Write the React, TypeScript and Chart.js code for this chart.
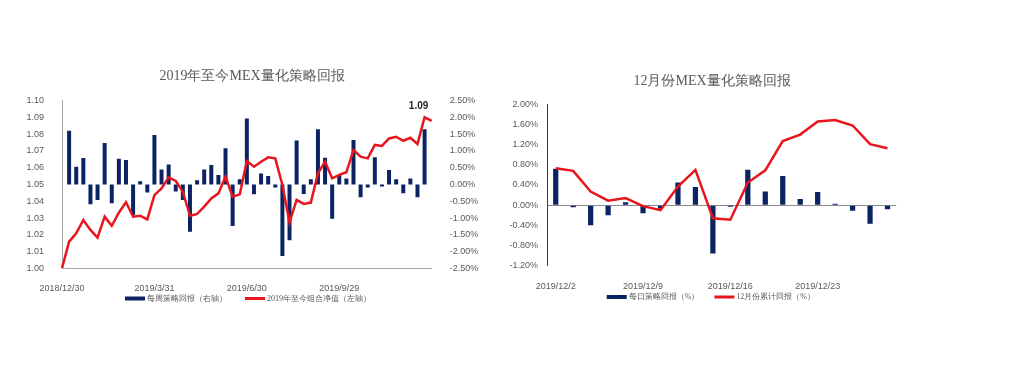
import React, { useEffect, useRef } from "react";
import { Chart, registerables } from "chart.js";

Chart.register(...registerables);

// ---------- Left chart data (weekly) ----------
const weeklyCategories = [
  "2018/12/30", "2019/1/6", "2019/1/13", "2019/1/20", "2019/1/27", "2019/2/3", "2019/2/10",
  "2019/2/17", "2019/2/24", "2019/3/3", "2019/3/10", "2019/3/17", "2019/3/24", "2019/3/31",
  "2019/4/7", "2019/4/14", "2019/4/21", "2019/4/28", "2019/5/5", "2019/5/12", "2019/5/19",
  "2019/5/26", "2019/6/2", "2019/6/9", "2019/6/16", "2019/6/23", "2019/6/30", "2019/7/7",
  "2019/7/14", "2019/7/21", "2019/7/28", "2019/8/4", "2019/8/11", "2019/8/18", "2019/8/25",
  "2019/9/1", "2019/9/8", "2019/9/15", "2019/9/22", "2019/9/29", "2019/10/6", "2019/10/13",
  "2019/10/20", "2019/10/27", "2019/11/3", "2019/11/10", "2019/11/17", "2019/11/24",
  "2019/12/1", "2019/12/8", "2019/12/15", "2019/12/22", "2019/12/29",
];
const weeklyTickLabels = ["2018/12/30", "2019/3/31", "2019/6/30", "2019/9/29"];
const weeklyReturn: (number | null)[] = [
  null, 1.6, 0.53, 0.79, -0.59, -0.46, 1.24, -0.56, 0.77, 0.73, -0.91,
  0.1, -0.24, 1.48, 0.45, 0.6, -0.21, -0.46, -1.41, 0.13, 0.45,
  0.58, 0.28, 1.08, -1.24, 0.16, 1.97, -0.29, 0.33, 0.25, -0.09,
  -2.13, -1.66, 1.31, -0.28, 0.16, 1.65, 0.8, -1.02, 0.28, 0.18,
  1.33, -0.38, -0.09, 0.81, -0.06, 0.43, 0.16, -0.26, 0.18, -0.38, 1.65, null,
];
const ytdNav = [
  1.0, 1.0159, 1.0209, 1.0288, 1.0229, 1.0183, 1.0308, 1.0254, 1.0332, 1.0394,
  1.0308, 1.0314, 1.0292, 1.0437, 1.0477, 1.0543, 1.0521, 1.0457, 1.0312, 1.0324,
  1.0368, 1.0417, 1.0447, 1.0547, 1.0427, 1.0441, 1.064, 1.0606, 1.0636, 1.0662,
  1.0656, 1.0497, 1.0274, 1.0408, 1.0384, 1.0392, 1.0567, 1.0636, 1.0537, 1.0557,
  1.0573, 1.0706, 1.0666, 1.0656, 1.0736, 1.073, 1.0775, 1.0785, 1.0761, 1.0779,
  1.0742, 1.0901, 1.0879,
];
const leftTitle = "2019年至今MEX量化策略回报";
const leftBarLabel = "每周策略回报（右轴）";
const leftLineLabel = "2019年至今组合净值（左轴）";
const navLabelIndex = 51;

// ---------- Right chart data (daily) ----------
const dailyCategories = [
  "2019/12/2", "2019/12/3", "2019/12/4", "2019/12/5", "2019/12/6",
  "2019/12/9", "2019/12/10", "2019/12/11", "2019/12/12", "2019/12/13",
  "2019/12/16", "2019/12/17", "2019/12/18", "2019/12/19", "2019/12/20",
  "2019/12/23", "2019/12/24", "2019/12/25", "2019/12/26", "2019/12/27",
];
const dailyTickLabels = ["2019/12/2", "2019/12/9", "2019/12/16", "2019/12/23"];
const dailyReturn = [
  0.72, -0.04, -0.4, -0.2, 0.06, -0.16, -0.07, 0.45, 0.36, -0.96,
  -0.03, 0.7, 0.27, 0.58, 0.12, 0.26, 0.03, -0.11, -0.37, -0.08,
];
const decCumReturn = [
  0.73, 0.68, 0.27, 0.09, 0.14, -0.02, -0.1, 0.37, 0.7, -0.26,
  -0.29, 0.45, 0.69, 1.27, 1.4, 1.66, 1.69, 1.58, 1.21, 1.13,
];
const rightTitle = "12月份MEX量化策略回报";
const rightBarLabel = "每日策略回报（%）";
const rightLineLabel = "12月份累计回报（%）";

// ---------- Styles ----------
const NAVY = "#0B2263";
const RED = "#E8161C";
const TEXT = "#595959";
const AXIS = "#A6A6A6";
const SANS = "'Liberation Sans', Arial, sans-serif";
const SERIF = "'Liberation Serif', 'Times New Roman', serif";

const decoPlugin = {
  id: "deco",
  afterDraw(chart: any, _args: any, opts: any) {
    const ctx = chart.ctx as CanvasRenderingContext2D;
    ctx.save();
    // title
    ctx.font = `14px ${SERIF}`;
    ctx.fillStyle = TEXT;
    ctx.textAlign = "center";
    ctx.textBaseline = "middle";
    ctx.fillText(opts.title, opts.titleX, opts.titleY);
    // legend
    ctx.font = `8px ${SERIF}`;
    ctx.textAlign = "left";
    let x = opts.legendX;
    chart.data.datasets.forEach((ds: any) => {
      const isLine = ds.type === "line";
      ctx.fillStyle = isLine ? ds.borderColor : ds.backgroundColor;
      const h = isLine ? 3 : 4;
      ctx.fillRect(x, opts.legendY - h / 2, 20, h);
      x += 22;
      ctx.fillStyle = TEXT;
      ctx.fillText(ds.label, x, opts.legendY);
      x += ctx.measureText(ds.label).width + opts.legendGap;
    });
    // value label
    if (opts.valueIndex != null) {
      const meta = chart.getDatasetMeta(opts.valueDataset);
      const pt = meta.data[opts.valueIndex];
      const v = chart.data.datasets[opts.valueDataset].data[opts.valueIndex];
      ctx.font = `bold 10px ${SANS}`;
      ctx.fillStyle = "#262626";
      ctx.textAlign = "center";
      ctx.fillText(Number(v).toFixed(2), pt.x - 6, pt.y - 11);
    }
    ctx.restore();
  },
};

function fixWidth(w: number) {
  return (scale: any) => {
    scale.width = w;
  };
}
function fixHeight(h: number) {
  return (scale: any) => {
    scale.height = h;
  };
}

export default function App() {
  const leftRef = useRef<HTMLCanvasElement>(null);
  const rightRef = useRef<HTMLCanvasElement>(null);

  useEffect(() => {
    const tickFont = { family: SANS, size: 9 };

    const left = new Chart(leftRef.current as HTMLCanvasElement, {
      type: "bar",
      data: {
        labels: weeklyCategories,
        datasets: [
          {
            type: "bar",
            label: leftBarLabel,
            data: weeklyReturn,
            backgroundColor: NAVY,
            yAxisID: "y1",
            barPercentage: 0.56,
            categoryPercentage: 1,
            order: 1,
          } as any,
          {
            type: "line",
            label: leftLineLabel,
            data: ytdNav,
            borderColor: RED,
            backgroundColor: RED,
            borderWidth: 2.5,
            pointRadius: 0,
            tension: 0,
            yAxisID: "y",
            order: 0,
          } as any,
        ],
      },
      options: {
        responsive: false,
        animation: false,
        devicePixelRatio: 1,
        layout: { padding: { left: 22, right: 18.3, top: 100.7, bottom: 81.7 } },
        plugins: {
          legend: { display: false },
          tooltip: { enabled: false },
          deco: {
            title: leftTitle,
            titleX: 252,
            titleY: 76,
            legendX: 125,
            legendY: 298.5,
            legendGap: 18,
            valueIndex: navLabelIndex,
            valueDataset: 1,
          },
        } as any,
        scales: {
          x: {
            offset: false,
            grid: { display: false },
            border: { display: true, color: AXIS, width: 1 },
            afterFit: fixHeight(30),
            ticks: {
              autoSkip: false,
              maxRotation: 0,
              minRotation: 0,
              padding: 7,
              color: TEXT,
              font: tickFont,
              callback: (_v: any, i: number) =>
                weeklyTickLabels.includes(weeklyCategories[i]) ? weeklyCategories[i] : "",
            },
          },
          y: {
            position: "left",
            min: 1.0,
            max: 1.1,
            grid: { display: false },
            border: { display: true, color: AXIS, width: 1 },
            afterFit: fixWidth(40),
            ticks: {
              stepSize: 0.01,
              padding: 10,
              color: TEXT,
              font: tickFont,
              callback: (v: any) => Number(v).toFixed(2),
            },
          },
          y1: {
            position: "right",
            min: -2.5,
            max: 2.5,
            grid: { display: false },
            border: { display: false },
            afterFit: fixWidth(50),
            ticks: {
              stepSize: 0.5,
              padding: 10,
              color: TEXT,
              font: tickFont,
              callback: (v: any) => (Math.abs(v) < 1e-9 ? 0 : Number(v)).toFixed(2) + "%",
            },
          },
        } as any,
      },
      plugins: [decoPlugin as any],
    });

    const right = new Chart(rightRef.current as HTMLCanvasElement, {
      type: "bar",
      data: {
        labels: dailyCategories,
        datasets: [
          {
            type: "bar",
            label: rightBarLabel,
            data: dailyReturn,
            backgroundColor: NAVY,
            barPercentage: 0.3,
            categoryPercentage: 1,
            order: 1,
          } as any,
          {
            type: "line",
            label: rightLineLabel,
            data: decCumReturn,
            borderColor: RED,
            backgroundColor: RED,
            borderWidth: 2.5,
            pointRadius: 0,
            tension: 0,
            order: 0,
          } as any,
        ],
      },
      options: {
        responsive: false,
        animation: false,
        devicePixelRatio: 1,
        layout: { padding: { left: 7, right: 127.75, top: 104.3, bottom: 84.3 } },
        plugins: {
          legend: { display: false },
          tooltip: { enabled: false },
          deco: {
            title: rightTitle,
            titleX: 212,
            titleY: 81.7,
            legendX: 106.7,
            legendY: 297,
            legendGap: 15,
            valueIndex: null,
          },
        } as any,
        scales: {
          x: {
            offset: true,
            grid: { display: false },
            border: { display: false },
            afterFit: fixHeight(30),
            ticks: {
              autoSkip: false,
              maxRotation: 0,
              minRotation: 0,
              padding: 7,
              color: TEXT,
              font: tickFont,
              callback: (_v: any, i: number) =>
                dailyTickLabels.includes(dailyCategories[i]) ? dailyCategories[i] : "",
            },
          },
          y: {
            position: "left",
            min: -1.2,
            max: 2.0,
            grid: {
              display: true,
              drawTicks: false,
              lineWidth: 1,
              color: (c: any) =>
                c.tick && Math.abs(c.tick.value) < 1e-9 ? "#8C8C8C" : "rgba(0,0,0,0)",
            },
            border: { display: true, color: "#404040", width: 1 },
            afterFit: fixWidth(40),
            ticks: {
              stepSize: 0.4,
              padding: 9,
              color: TEXT,
              font: tickFont,
              callback: (v: any) => (Math.abs(v) < 1e-9 ? 0 : Number(v)).toFixed(2) + "%",
            },
          },
        } as any,
      },
      plugins: [decoPlugin as any],
    });

    return () => {
      left.destroy();
      right.destroy();
    };
  }, []);

  return (
    <div
      style={{
        position: "absolute",
        left: 0,
        top: 0,
        width: 1024,
        height: 380,
        background: "#ffffff",
      }}
    >
      <canvas
        ref={leftRef}
        width={500}
        height={380}
        style={{ position: "absolute", left: 0, top: 0, width: 500, height: 380 }}
      />
      <canvas
        ref={rightRef}
        width={524}
        height={380}
        style={{ position: "absolute", left: 500, top: 0, width: 524, height: 380 }}
      />
    </div>
  );
}
